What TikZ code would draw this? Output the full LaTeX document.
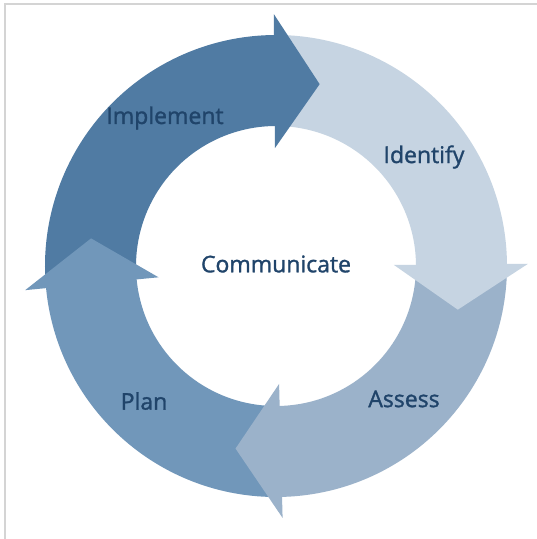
\documentclass[tikz,border=0pt]{standalone}
\usepackage{fontspec}
\setmainfont{Open Sans}
\newfontfamily\labelfont{Open Sans}[FakeBold=1.3]

\definecolor{implcol}{RGB}{80,123,163}
\definecolor{identcol}{RGB}{198,212,226}
\definecolor{assesscol}{RGB}{155,178,202}
\definecolor{plancol}{RGB}{113,151,186}
\definecolor{labelcol}{RGB}{32,68,106}
\definecolor{framecol}{RGB}{212,212,212}

\tikzset{steplabel/.style={font=\labelfont\fontsize{23}{26}\selectfont,text=labelcol,inner sep=0pt}}

\begin{document}
\begin{tikzpicture}[x=1pt,y=1pt]
    \useasboundingbox (-276,-273) rectangle (261,266);
    \fill[white] (-276,-273) rectangle (261,266);
    % thin frame, top and left only
    \draw[framecol,line width=2pt] (261,262.5)--(-270.5,262.5)--(-270.5,-273);
    % ring pieces, inner radius 140, outer 231 (start tucked under own head)
    \foreach \a/\b/\c in {89.5/185/implcol,-0.5/90/identcol,-89.5/0/assesscol,184.5/271/plancol}
    \fill[\c] (\a:140) arc[start angle=\a,end angle=\b,radius=140]
        --(\b:231) arc[start angle=\b,end angle=\a,radius=231]--cycle;
    % arrow heads on top, base set back a little into the own piece
    \foreach \a/\c in {90/implcol,0/identcol,-89/assesscol,185/plancol}
    \fill[\c] (\a+0.5:118)--(\a+0.5:252)--(\a-13.5:187)--cycle;
    \node[steplabel] (communicate) at (0,2) {Communicate};
    \node[steplabel] (implement) at (-111,148) {Implement};
    \node[steplabel] (identify) at (148,109) {Identify};
    \node[steplabel] (assess) at (128,-133) {Assess};
    \node[steplabel] (plan) at (-132,-135) {Plan};
\end{tikzpicture}
\end{document}
